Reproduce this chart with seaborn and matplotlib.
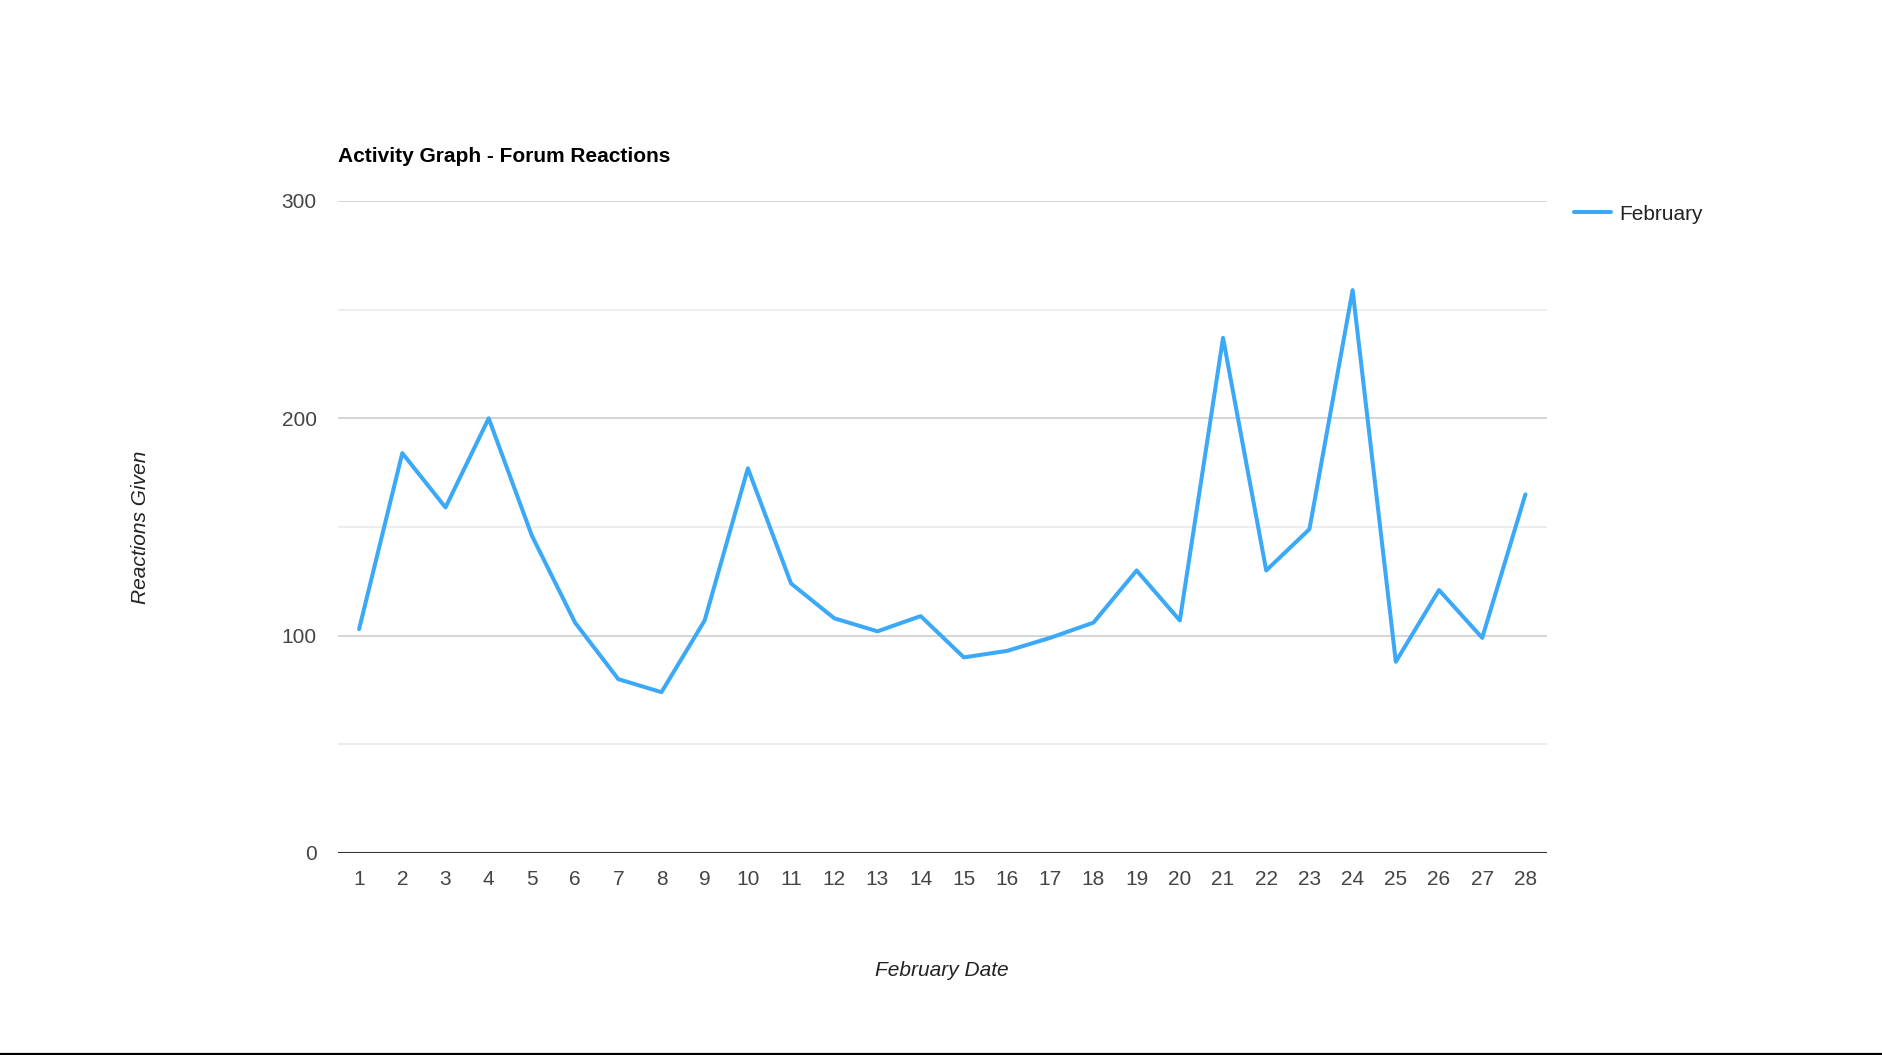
"""
Activity Graph - Forum Reactions (February)
Line chart of reactions given per day
"""

import pandas as pd
import matplotlib.pyplot as plt
import seaborn as sns
from matplotlib.lines import Line2D

# Data
days = list(range(1, 29))
reactions = [103, 184, 159, 200, 146, 106, 80, 74, 107, 177,
             124, 108, 102, 109, 90, 93, 99, 106, 130, 107,
             237, 130, 149, 259, 88, 121, 99, 165]
series_name = "February"
y_ticks = [0, 100, 200, 300]
y_minor = [50, 150, 250]

LINE_COLOR = '#3ba9f7'
W, H, DPI = 1883, 1055, 100

sns.set_style("white")
plt.rcParams['font.family'] = ['Liberation Sans', 'DejaVu Sans']

df = pd.DataFrame({'Day': days, 'Reactions': reactions, 'Series': series_name})

fig = plt.figure(figsize=(W / DPI, H / DPI), dpi=DPI)
ax = fig.add_axes([337.5 / W, 1 - 853 / H, 1209.5 / W, 652 / H])

sns.lineplot(data=df, x='Day', y='Reactions', hue='Series',
             palette=[LINE_COLOR], linewidth=2.9, ax=ax, legend=False)

ax.set_xlim(0.5, 28.5)
ax.set_ylim(0, 300)
ax.set_xticks(days)
ax.set_yticks(y_ticks)
ax.set_yticks(y_minor, minor=True)

# Gridlines
for v in y_ticks[1:]:
    ax.axhline(v, color='#d2d2d2', lw=1.3, zorder=0)
for v in y_minor:
    ax.axhline(v, color='#ececec', lw=1.3, zorder=0)
ax.axhline(0, color='#333333', lw=1.5, zorder=1)

for side in ['top', 'right', 'left', 'bottom']:
    ax.spines[side].set_visible(False)

ax.tick_params(axis='both', which='both', length=0, labelsize=15, labelcolor='#444444')
ax.tick_params(axis='x', pad=12)
ax.tick_params(axis='y', pad=15)

# Axis labels
ax.set_xlabel('February Date', fontsize=15, style='italic', color='#222222')
ax.set_ylabel('Reactions Given', fontsize=15, style='italic', color='#222222')
ax.xaxis.set_label_coords(0.5, (853 - 970) / 652)
ax.xaxis.label.set_va('center')
ax.yaxis.set_label_coords((140 - 337.5) / 1209.5, 0.5)
ax.yaxis.label.set_va('center')

# Title
fig.text(337.5 / W, 1 - 157 / H, 'Activity Graph - Forum Reactions',
         fontsize=15, fontweight='bold', color='#000000', ha='left', va='center')

# Legend
handle = Line2D([0], [0], color=LINE_COLOR, lw=2.9)
fig.legend([handle], [series_name], loc='center left',
           bbox_to_anchor=(1566 / W, 1 - 214 / H), frameon=False,
           fontsize=15, handlelength=1.75, handletextpad=0.4,
           labelcolor='#222222', borderaxespad=0)

# Bottom border
fig.add_artist(Line2D([0, 1], [1.2 / H, 1.2 / H], transform=fig.transFigure,
                      color='black', lw=1.6))

plt.savefig('out.png', dpi=DPI)
plt.close()
